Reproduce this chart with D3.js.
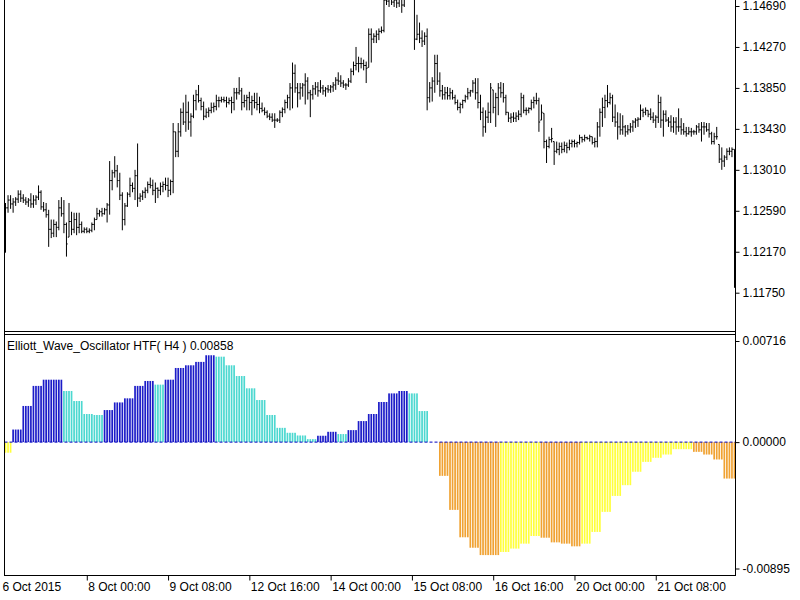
<!DOCTYPE html>
<html><head><meta charset="utf-8">
<script src="https://cdn.jsdelivr.net/npm/d3@7"></script>
<style>html,body{margin:0;padding:0;background:#fff;overflow:hidden}</style>
</head><body><svg id="c" width="800" height="600"></svg>
<script>
// EURUSD H1 bars
const high = [
1.1267,1.1275,1.1275,1.1272,1.1273,1.1280,1.1280,1.1276,1.1273,1.1272,
1.1277,1.1275,1.1275,1.1285,1.1280,1.1268,1.1267,1.1260,1.1250,1.1250,
1.1248,1.1270,1.1273,1.1270,1.1247,1.1267,1.1258,1.1257,1.1257,1.1257,
1.1248,1.1242,1.1242,1.1241,1.1247,1.1252,1.1262,1.1260,1.1262,1.1262,
1.1267,1.1310,1.1301,1.1315,1.1306,1.1298,1.1278,1.1267,1.1278,1.1293,
1.1288,1.1301,1.1328,1.1277,1.1280,1.1283,1.1289,1.1293,1.1291,1.1288,
1.1283,1.1288,1.1289,1.1293,1.1293,1.1291,1.1349,1.1340,1.1349,1.1364,
1.1370,1.1378,1.1371,1.1359,1.1378,1.1383,1.1388,1.1375,1.1371,1.1364,
1.1365,1.1370,1.1370,1.1378,1.1376,1.1376,1.1376,1.1376,1.1375,1.1376,
1.1385,1.1385,1.1396,1.1385,1.1378,1.1378,1.1381,1.1377,1.1380,1.1380,
1.1376,1.1370,1.1365,1.1362,1.1359,1.1359,1.1359,1.1354,1.1362,1.1365,
1.1373,1.1378,1.1390,1.1411,1.1409,1.1390,1.1390,1.1390,1.1400,1.1396,
1.1383,1.1388,1.1391,1.1391,1.1393,1.1388,1.1386,1.1388,1.1388,1.1391,
1.1396,1.1401,1.1398,1.1393,1.1390,1.1395,1.1405,1.1412,1.1427,1.1417,
1.1416,1.1414,1.1412,1.1446,1.1446,1.1441,1.1444,1.1446,1.1448,1.1478,
1.1483,1.1482,1.1484,1.1481,1.1480,1.1482,1.1479,1.1483,1.1490,1.1493,
1.1489,1.1480,1.1460,1.1452,1.1444,1.1442,1.1446,1.1391,1.1396,1.1419,
1.1419,1.1401,1.1388,1.1386,1.1386,1.1385,1.1383,1.1378,1.1373,1.1370,
1.1373,1.1378,1.1385,1.1383,1.1393,1.1395,1.1395,1.1378,1.1365,1.1362,
1.1370,1.1390,1.1383,1.1380,1.1390,1.1391,1.1390,1.1378,1.1360,1.1359,
1.1360,1.1360,1.1362,1.1380,1.1378,1.1365,1.1365,1.1373,1.1376,1.1380,
1.1375,1.1368,1.1359,1.1332,1.1335,1.1344,1.1330,1.1330,1.1329,1.1329,
1.1330,1.1329,1.1332,1.1332,1.1332,1.1330,1.1337,1.1335,1.1337,1.1335,
1.1337,1.1335,1.1334,1.1350,1.1364,1.1375,1.1378,1.1388,1.1380,1.1378,
1.1368,1.1360,1.1359,1.1357,1.1347,1.1347,1.1349,1.1352,1.1354,1.1355,
1.1368,1.1364,1.1365,1.1362,1.1364,1.1360,1.1357,1.1378,1.1376,1.1362,
1.1362,1.1355,1.1357,1.1355,1.1355,1.1364,1.1354,1.1349,1.1345,1.1345,
1.1344,1.1342,1.1347,1.1349,1.1350,1.1350,1.1349,1.1349,1.1340,1.1339,
1.1345,1.1327,1.1324,1.1316,1.1323,1.1324,1.1324,1.1322];
const low = [
1.1216,1.1257,1.1261,1.1257,1.1264,1.1267,1.1268,1.1267,1.1265,1.1263,
1.1262,1.1262,1.1265,1.1270,1.1260,1.1258,1.1252,1.1222,1.1231,1.1232,
1.1232,1.1239,1.1253,1.1236,1.1212,1.1232,1.1234,1.1236,1.1234,1.1236,
1.1236,1.1236,1.1236,1.1236,1.1237,1.1239,1.1250,1.1253,1.1253,1.1255,
1.1247,1.1255,1.1280,1.1293,1.1283,1.1270,1.1239,1.1244,1.1263,1.1273,
1.1278,1.1270,1.1263,1.1268,1.1270,1.1272,1.1277,1.1282,1.1275,1.1267,
1.1272,1.1275,1.1278,1.1280,1.1273,1.1275,1.1277,1.1314,1.1314,1.1335,
1.1347,1.1340,1.1342,1.1335,1.1354,1.1362,1.1370,1.1362,1.1352,1.1354,
1.1355,1.1359,1.1360,1.1362,1.1365,1.1370,1.1370,1.1365,1.1368,1.1359,
1.1362,1.1373,1.1378,1.1362,1.1365,1.1362,1.1362,1.1357,1.1364,1.1362,
1.1359,1.1360,1.1357,1.1354,1.1352,1.1350,1.1344,1.1350,1.1349,1.1355,
1.1359,1.1364,1.1362,1.1364,1.1380,1.1365,1.1373,1.1376,1.1368,1.1373,
1.1355,1.1373,1.1378,1.1376,1.1380,1.1378,1.1376,1.1380,1.1380,1.1381,
1.1383,1.1388,1.1386,1.1385,1.1383,1.1386,1.1390,1.1398,1.1403,1.1401,
1.1405,1.1403,1.1390,1.1406,1.1411,1.1431,1.1431,1.1434,1.1441,1.1442,
1.1470,1.1468,1.1470,1.1468,1.1467,1.1468,1.1462,1.1468,1.1477,1.1478,
1.1476,1.1424,1.1434,1.1431,1.1427,1.1429,1.1362,1.1370,1.1371,1.1380,
1.1388,1.1376,1.1373,1.1373,1.1373,1.1373,1.1373,1.1368,1.1362,1.1359,
1.1364,1.1370,1.1373,1.1376,1.1380,1.1373,1.1364,1.1352,1.1335,1.1339,
1.1349,1.1349,1.1359,1.1345,1.1357,1.1375,1.1370,1.1357,1.1350,1.1349,
1.1350,1.1350,1.1352,1.1355,1.1359,1.1357,1.1359,1.1362,1.1364,1.1368,
1.1340,1.1352,1.1323,1.1308,1.1323,1.1329,1.1306,1.1318,1.1316,1.1318,
1.1319,1.1318,1.1321,1.1324,1.1324,1.1324,1.1327,1.1329,1.1330,1.1332,
1.1330,1.1327,1.1324,1.1324,1.1335,1.1345,1.1354,1.1365,1.1368,1.1350,
1.1345,1.1332,1.1337,1.1337,1.1335,1.1337,1.1339,1.1340,1.1344,1.1345,
1.1352,1.1355,1.1357,1.1355,1.1352,1.1349,1.1344,1.1349,1.1344,1.1335,
1.1350,1.1345,1.1340,1.1339,1.1337,1.1340,1.1337,1.1337,1.1335,1.1337,
1.1335,1.1337,1.1337,1.1339,1.1330,1.1337,1.1340,1.1334,1.1327,1.1327,
1.1332,1.1308,1.1301,1.1304,1.1311,1.1316,1.1314,1.1180];
const open = [
1.1225,1.1262,1.1270,1.1266,1.1268,1.1271,1.1276,1.1272,1.1270,1.1268,
1.1270,1.1266,1.1270,1.1273,1.1278,1.1263,1.1260,1.1255,1.1240,1.1236,
1.1245,1.1242,1.1262,1.1256,1.1245,1.1232,1.1248,1.1240,1.1250,1.1242,
1.1245,1.1238,1.1240,1.1238,1.1239,1.1245,1.1250,1.1256,1.1258,1.1256,
1.1260,1.1265,1.1290,1.1298,1.1300,1.1290,1.1275,1.1250,1.1264,1.1276,
1.1285,1.1282,1.1295,1.1272,1.1274,1.1278,1.1280,1.1286,1.1285,1.1280,
1.1282,1.1280,1.1284,1.1286,1.1285,1.1280,1.1289,1.1340,1.1320,1.1340,
1.1360,1.1350,1.1360,1.1350,1.1356,1.1372,1.1378,1.1372,1.1366,1.1356,
1.1360,1.1362,1.1365,1.1366,1.1372,1.1372,1.1373,1.1372,1.1370,1.1372,
1.1370,1.1380,1.1380,1.1382,1.1370,1.1372,1.1375,1.1370,1.1372,1.1370,
1.1368,1.1364,1.1362,1.1360,1.1356,1.1355,1.1352,1.1352,1.1352,1.1360,
1.1363,1.1370,1.1375,1.1385,1.1400,1.1385,1.1380,1.1385,1.1388,1.1392,
1.1380,1.1378,1.1384,1.1386,1.1382,1.1385,1.1382,1.1384,1.1383,1.1386,
1.1388,1.1393,1.1392,1.1390,1.1388,1.1388,1.1392,1.1402,1.1408,1.1410,
1.1410,1.1410,1.1408,1.1406,1.1440,1.1435,1.1438,1.1440,1.1443,1.1444,
1.1475,1.1474,1.1476,1.1473,1.1475,1.1472,1.1476,1.1470,1.1480,1.1485,
1.1482,1.1478,1.1435,1.1440,1.1436,1.1433,1.1438,1.1375,1.1385,1.1392,
1.1410,1.1392,1.1382,1.1378,1.1380,1.1377,1.1380,1.1375,1.1370,1.1365,
1.1368,1.1372,1.1376,1.1380,1.1382,1.1390,1.1380,1.1370,1.1360,1.1345,
1.1355,1.1360,1.1383,1.1365,1.1375,1.1385,1.1380,1.1375,1.1360,1.1354,
1.1355,1.1354,1.1356,1.1358,1.1375,1.1362,1.1362,1.1364,1.1370,1.1372,
1.1372,1.1352,1.1359,1.1330,1.1325,1.1332,1.1330,1.1320,1.1322,1.1325,
1.1322,1.1326,1.1324,1.1328,1.1330,1.1328,1.1329,1.1334,1.1332,1.1334,
1.1333,1.1335,1.1329,1.1330,1.1345,1.1360,1.1365,1.1372,1.1370,1.1375,
1.1355,1.1350,1.1345,1.1342,1.1345,1.1340,1.1342,1.1345,1.1350,1.1352,
1.1353,1.1362,1.1360,1.1362,1.1358,1.1355,1.1352,1.1355,1.1370,1.1352,
1.1358,1.1352,1.1350,1.1345,1.1350,1.1345,1.1345,1.1342,1.1340,1.1338,
1.1340,1.1340,1.1340,1.1345,1.1342,1.1345,1.1345,1.1342,1.1338,1.1330,
1.1335,1.1327,1.1312,1.1310,1.1314,1.1320,1.1320,1.1322];
const close = [
1.1262,1.1270,1.1266,1.1268,1.1271,1.1276,1.1272,1.1270,1.1268,1.1270,
1.1266,1.1270,1.1273,1.1278,1.1263,1.1260,1.1255,1.1240,1.1236,1.1245,
1.1242,1.1262,1.1256,1.1245,1.1225,1.1248,1.1240,1.1250,1.1242,1.1245,
1.1238,1.1240,1.1238,1.1239,1.1245,1.1250,1.1256,1.1258,1.1256,1.1260,
1.1265,1.1290,1.1298,1.1300,1.1290,1.1275,1.1250,1.1264,1.1276,1.1285,
1.1282,1.1295,1.1272,1.1274,1.1278,1.1280,1.1286,1.1285,1.1280,1.1282,
1.1280,1.1284,1.1286,1.1285,1.1280,1.1289,1.1340,1.1320,1.1340,1.1360,
1.1350,1.1360,1.1350,1.1356,1.1372,1.1378,1.1372,1.1366,1.1356,1.1360,
1.1362,1.1365,1.1366,1.1372,1.1372,1.1373,1.1372,1.1370,1.1372,1.1370,
1.1380,1.1380,1.1382,1.1370,1.1372,1.1375,1.1370,1.1372,1.1370,1.1368,
1.1364,1.1362,1.1360,1.1356,1.1355,1.1352,1.1352,1.1352,1.1360,1.1363,
1.1370,1.1375,1.1385,1.1400,1.1385,1.1380,1.1385,1.1388,1.1392,1.1380,
1.1378,1.1384,1.1386,1.1382,1.1385,1.1382,1.1384,1.1383,1.1386,1.1388,
1.1393,1.1392,1.1390,1.1388,1.1388,1.1392,1.1402,1.1408,1.1410,1.1410,
1.1410,1.1408,1.1405,1.1440,1.1435,1.1438,1.1440,1.1443,1.1444,1.1475,
1.1474,1.1476,1.1473,1.1475,1.1472,1.1476,1.1470,1.1480,1.1485,1.1482,
1.1478,1.1435,1.1440,1.1436,1.1433,1.1438,1.1375,1.1385,1.1392,1.1410,
1.1392,1.1382,1.1378,1.1380,1.1377,1.1380,1.1375,1.1370,1.1365,1.1368,
1.1372,1.1376,1.1380,1.1382,1.1390,1.1380,1.1370,1.1360,1.1345,1.1355,
1.1360,1.1385,1.1365,1.1375,1.1385,1.1380,1.1375,1.1360,1.1354,1.1355,
1.1354,1.1356,1.1358,1.1375,1.1362,1.1362,1.1364,1.1370,1.1372,1.1372,
1.1350,1.1360,1.1330,1.1325,1.1332,1.1333,1.1320,1.1322,1.1325,1.1322,
1.1326,1.1324,1.1328,1.1330,1.1328,1.1329,1.1334,1.1332,1.1334,1.1333,
1.1335,1.1329,1.1330,1.1345,1.1360,1.1365,1.1372,1.1370,1.1375,1.1355,
1.1350,1.1345,1.1342,1.1345,1.1340,1.1342,1.1345,1.1350,1.1352,1.1353,
1.1362,1.1360,1.1362,1.1358,1.1355,1.1352,1.1355,1.1370,1.1352,1.1358,
1.1352,1.1350,1.1345,1.1350,1.1345,1.1345,1.1342,1.1340,1.1338,1.1340,
1.1340,1.1340,1.1345,1.1342,1.1345,1.1345,1.1342,1.1338,1.1330,1.1335,
1.1335,1.1312,1.1310,1.1314,1.1320,1.1320,1.1322,1.1318];

// Elliott Wave Oscillator values of the H4 bars (one per H4 step)
const ewoH4 = [
-0.00075,0.00089,0.00256,0.00398,0.00442,0.00442,0.00362,0.00291,0.00199,0.00192,
0.00227,0.00281,0.00310,0.00398,0.00433,0.00407,0.00442,0.00525,0.00544,0.00568,
0.00615,0.00605,0.00544,0.00468,0.00381,0.00298,0.00192,0.00101,0.00066,0.00047,
0.00021,0.00045,0.00073,0.00057,0.00085,0.00149,0.00199,0.00284,0.00345,0.00362,
0.00345,0.00220,0.00000,-0.00239,-0.00480,-0.00674,-0.00748,-0.00800,-0.00800,-0.00778,
-0.00754,-0.00719,-0.00665,-0.00677,-0.00710,-0.00719,-0.00738,-0.00719,-0.00636,-0.00494,
-0.00381,-0.00305,-0.00210,-0.00140,-0.00111,-0.00088,-0.00050,-0.00050,-0.00069,-0.00088,
-0.00123,-0.00258,-0.00258];
// colour state of each H4 step: B rising>0, C falling>0, O falling<0, Y rising<0
const ewoState = ("Y"+"BBBBB"+"CCCC"+"BBBBB"+"C"+"BBBBB"+"CCCCCCCCCC"+"BB"+"C"+"BBBBBB"+"CCC"+
  "OOOOOO"+"YYYY"+"OOOO"+"YYYYYYYYYYY"+"OOOOO").split("");

const priceTicks = [1.14690,1.14270,1.13850,1.13430,1.13010,1.12590,1.12170,1.11750];
const ewoTicks = [0.00716,0.00000,-0.00895];
const timeTickIdx = [0,32,64,96,128,160,192,224,256];
const timeTickLabels = ["6 Oct 2015","8 Oct 00:00","9 Oct 08:00","12 Oct 16:00","14 Oct 00:00",
  "15 Oct 08:00","16 Oct 16:00","20 Oct 00:00","21 Oct 08:00"];
const title = "Elliott_Wave_Oscillator HTF( H4 ) 0.00858";

const FONT = "'Liberation Sans', Arial, sans-serif";
const FS = 12;
const colors = {B:"#1c1cc8", C:"#4cd8d0", O:"#f0a232", Y:"#ffff3c"};

const N = high.length;
const idx = d3.range(N);
const svg = d3.select("#c");
const x = d3.scaleLinear().domain([0, N-1]).range([5.5, 734.5]);
const yP = d3.scaleLinear().domain([1.1175, 1.1469]).range([292.7, 6]);
const yE = d3.scaleLinear().domain([-0.00895, 0.00716]).range([568.5, 341]);

// clip paths
const defs = svg.append("defs");
defs.append("clipPath").attr("id","cp").append("rect").attr("x",4.5).attr("y",0).attr("width",731).attr("height",331);
defs.append("clipPath").attr("id","ce").append("rect").attr("x",4.5).attr("y",335).attr("width",731).attr("height",240);

// price bars
const gP = svg.append("g").attr("clip-path","url(#cp)").attr("stroke","#000").attr("stroke-width",1);
gP.selectAll("line.hl").data(idx).join("line").attr("class","hl")
  .attr("x1",i=>x(i)).attr("x2",i=>x(i)).attr("y1",i=>yP(high[i])).attr("y2",i=>yP(low[i]));
gP.selectAll("line.op").data(idx).join("line").attr("class","op")
  .attr("x1",i=>x(i)-1.2).attr("x2",i=>x(i)).attr("y1",i=>yP(open[i])).attr("y2",i=>yP(open[i]));
gP.selectAll("line.cl").data(idx).join("line").attr("class","cl")
  .attr("x1",i=>x(i)).attr("x2",i=>x(i)+1.2).attr("y1",i=>yP(close[i])).attr("y2",i=>yP(close[i]));

// histogram (each H1 bar shows its H4 step)
const grp = i => Math.floor((i + 1) / 4);
const gE = svg.append("g").attr("clip-path","url(#ce)");
gE.selectAll("rect").data(idx).join("rect")
  .attr("x",i=>x(i)-0.85).attr("width",1.7)
  .attr("y",i=>Math.min(yE(ewoH4[grp(i)]), yE(0)))
  .attr("height",i=>Math.abs(yE(ewoH4[grp(i)]) - yE(0)))
  .attr("fill",i=>colors[ewoState[grp(i)]]);
svg.append("line").attr("x1",4.5).attr("x2",735).attr("y1",yE(0)).attr("y2",yE(0))
  .attr("stroke","#0000c0").attr("stroke-width",1).attr("stroke-dasharray","3,2");

// frames
const frame = svg.append("g").attr("stroke","#000").attr("stroke-width",1);
frame.append("line").attr("x1",4.5).attr("x2",4.5).attr("y1",0).attr("y2",576);
frame.append("line").attr("x1",735.5).attr("x2",735.5).attr("y1",0).attr("y2",576);
frame.append("line").attr("x1",4.5).attr("x2",735.5).attr("y1",331.5).attr("y2",331.5);
frame.append("line").attr("x1",4.5).attr("x2",735.5).attr("y1",334.5).attr("y2",334.5);
frame.append("line").attr("x1",4.5).attr("x2",735.5).attr("y1",575.5).attr("y2",575.5);

// axes
const fmt = d => d.toFixed(5);
const styleAxis = g => { g.select(".domain").remove(); g.attr("font-family",FONT).attr("font-size",FS);
  g.selectAll("text").attr("fill","#000"); g.selectAll("line").attr("stroke","#000"); };
svg.append("g").attr("transform","translate(735.5,0)")
  .call(d3.axisRight(yP).tickValues(priceTicks).tickFormat(fmt).tickSize(4).tickPadding(3).tickSizeOuter(0))
  .call(styleAxis);
svg.append("g").attr("transform","translate(735.5,0)")
  .call(d3.axisRight(yE).tickValues(ewoTicks).tickFormat(fmt).tickSize(4).tickPadding(3).tickSizeOuter(0))
  .call(styleAxis);
const gT = svg.append("g").attr("transform","translate(0,575.5)")
  .call(d3.axisBottom(x).tickValues(timeTickIdx).tickFormat((d,i)=>timeTickLabels[i]).tickSize(5).tickPadding(2).tickSizeOuter(0))
  .call(styleAxis);
gT.selectAll("text").attr("text-anchor","start").attr("x",(d,i)=> i===0 ? -3.5 : 1);
gT.selectAll(".tick").filter((d,i)=>i===0).select("line").remove();

// indicator title
svg.append("text").attr("x",7).attr("y",350).attr("font-family",FONT).attr("font-size",FS)
  .attr("fill","#000").text(title);
</script>
</body></html>
